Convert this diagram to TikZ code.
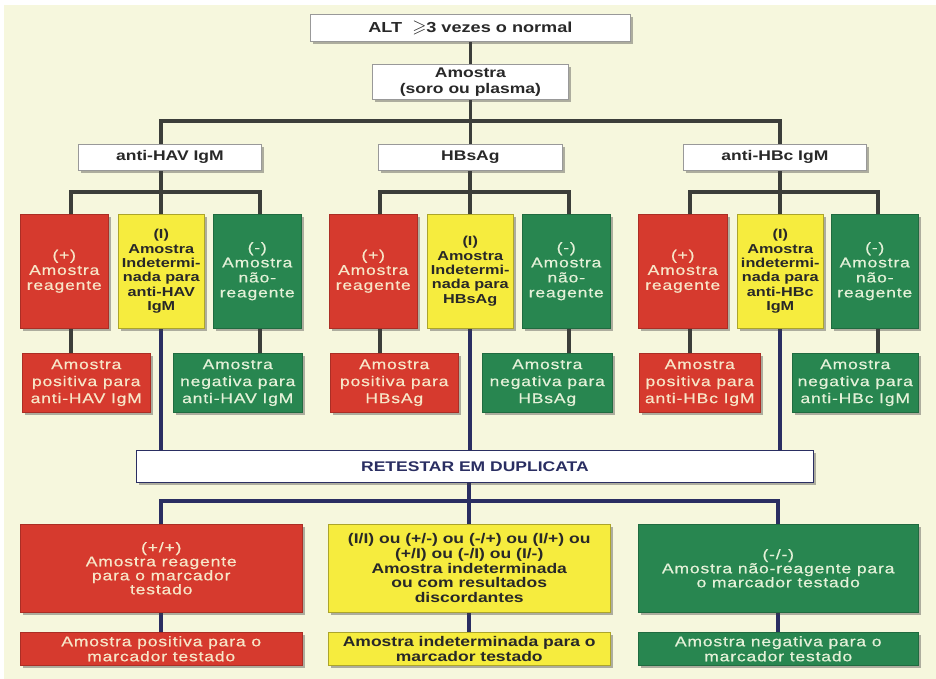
\documentclass[tikz,border=0pt]{standalone}
\usepackage{fontspec}
\usepackage{amssymb}
\setmainfont{Liberation Sans}[FakeStretch=1.25]
\newfontfamily\tracked{Liberation Sans}[FakeStretch=1.25,LetterSpace=6,FakeBold=0.6]
\usetikzlibrary{shadows}

\definecolor{cream}{RGB}{246,247,221}
\definecolor{rd}{RGB}{214,58,46}
\definecolor{yl}{RGB}{246,236,62}
\definecolor{gn}{RGB}{40,134,80}
\definecolor{rdtext}{RGB}{247,230,200}
\definecolor{gntext}{RGB}{228,241,216}
\definecolor{navy}{RGB}{42,46,98}
\definecolor{lnk}{RGB}{60,62,58}
\definecolor{ink}{RGB}{40,40,40}

\pgfdeclarelayer{bg}
\pgfdeclarelayer{links}
\pgfsetlayers{bg,links,main}

\tikzset{
  box/.style={anchor=north west, inner sep=1pt, align=center,
    drop shadow={shadow xshift=3pt, shadow yshift=-3pt, opacity=.4, fill=black!75}},
  wbox/.style={box, fill=white, draw=black!40, line width=.8pt, text=ink,
    font=\fontsize{14}{16}\selectfont\bfseries},
  rbox/.style={box, fill=rd, draw=rd!80!black, line width=.5pt, text=rdtext,
    font=\tracked\fontsize{14}{15}\selectfont},
  gbox/.style={box, fill=gn, draw=gn!80!black, line width=.5pt, text=gntext,
    font=\tracked\fontsize{14}{15}\selectfont},
  ybox/.style={box, fill=yl, draw=yl!70!black, line width=.5pt, text=ink,
    font=\fontsize{13}{14.3}\selectfont\bfseries},
  tall/.style={minimum width=88pt, minimum height=114pt},
  res/.style={minimum width=128pt, minimum height=59pt,
    font=\tracked\fontsize{14}{17}\selectfont},
  big/.style={minimum width=282pt, minimum height=88pt},
  fin/.style={minimum width=282pt, minimum height=33pt},
  lk/.style={draw=lnk, line width=3.6pt},
  nk/.style={draw=navy, line width=3.6pt},
}

\begin{document}
\begin{tikzpicture}[x=1pt, y=-1pt]
  \begin{pgfonlayer}{bg}
    \fill[white] (0,0) rectangle (936,679);
    \fill[cream] (4,5) rectangle (936,679);
  \end{pgfonlayer}
  \useasboundingbox (0,0) rectangle (936,679);

  % header
  \node[wbox, minimum width=320pt, minimum height=27pt, font=\fontsize{14.5}{16}\selectfont\bfseries] (alt) at (310,14) {ALT\ \ \scalebox{1.25}{$\geqslant$}3 vezes o normal};
  \node[wbox, minimum width=196pt, minimum height=35pt] (amo) at (372,64) {Amostra\\(soro ou plasma)};

  % markers
  \node[wbox, minimum width=183pt, minimum height=26pt] (hav) at (78,144) {anti-HAV IgM};
  \node[wbox, minimum width=184pt, minimum height=26pt] (hbs) at (378,144) {HBsAg};
  \node[wbox, minimum width=183pt, minimum height=26pt] (hbc) at (683,144) {anti-HBc IgM};

  % anti-HAV IgM branch
  \node[rbox, tall] (r1) at (20,214) {(+)\\Amostra\\reagente};
  \node[ybox, tall, minimum width=86pt] (y1) at (118,214) {(I)\\Amostra\\Indetermi-\\nada para\\anti-HAV\\IgM};
  \node[gbox, tall] (g1) at (213,214) {(-)\\Amostra\\não-\\reagente};
  \node[rbox, res] (rr1) at (22,353) {Amostra\\positiva para\\anti-HAV IgM};
  \node[gbox, res, minimum width=129pt] (gg1) at (173,353) {Amostra\\negativa para\\anti-HAV IgM};

  % HBsAg branch
  \node[rbox, tall] (r2) at (329,214) {(+)\\Amostra\\reagente};
  \node[ybox, tall, minimum width=86pt] (y2) at (427,214) {(I)\\Amostra\\Indetermi-\\nada para\\HBsAg};
  \node[gbox, tall] (g2) at (522,214) {(-)\\Amostra\\não-\\reagente};
  \node[rbox, res] (rr2) at (330,353) {Amostra\\positiva para\\HBsAg};
  \node[gbox, res, minimum width=130pt] (gg2) at (482,353) {Amostra\\negativa para\\HBsAg};

  % anti-HBc IgM branch
  \node[rbox, tall, minimum width=89pt] (r3) at (638,214) {(+)\\Amostra\\reagente};
  \node[ybox, tall, minimum width=86pt] (y3) at (737,214) {(I)\\Amostra\\indetermi-\\nada para\\anti-HBc\\IgM};
  \node[gbox, tall, minimum width=87pt] (g3) at (831,214) {(-)\\Amostra\\não-\\reagente};
  \node[rbox, res, minimum width=121pt] (rr3) at (639,353) {Amostra\\positiva para\\anti-HBc IgM};
  \node[gbox, res, minimum width=126pt] (gg3) at (792,353) {Amostra\\negativa para\\anti-HBc IgM};

  % retest
  \node[wbox, draw=navy, text=navy, minimum width=677pt, minimum height=32pt] (ret) at (136,450) {RETESTAR EM DUPLICATA};

  \node[rbox, big, font=\tracked\fontsize{14}{14}\selectfont] (br) at (20,524) {(+/+)\\Amostra reagente\\para o marcador\\testado};
  \node[ybox, big, font=\fontsize{14}{14.7}\selectfont\bfseries] (by) at (328,524) {(I/I) ou (+/-) ou (-/+) ou (I/+) ou\\(+/I) ou (-/I) ou (I/-)\\Amostra indeterminada\\ou com resultados\\discordantes};
  \node[gbox, big, minimum width=280pt, font=\tracked\fontsize{14}{14}\selectfont] (bg) at (638,524) {(-/-)\\Amostra não-reagente para\\o marcador testado};

  \node[rbox, fin] (brr) at (20,632) {Amostra positiva para o\\marcador testado};
  \node[ybox, fin, font=\fontsize{14}{15}\selectfont\bfseries] (byr) at (328,632) {Amostra indeterminada para o\\marcador testado};
  \node[gbox, fin, minimum width=280pt] (bgr) at (638,632) {Amostra negativa para o\\marcador testado};

  \begin{pgfonlayer}{links}
    % top tree
    \draw[lk] (alt) -- (amo);
    \draw[lk] (amo.south) -- (hbs.north);
    \draw[lk] (y1.north |- hav.north) -- ++(0,-23) -| (y3.north |- hbc.north);
    \foreach \h/\i in {hav/1, hbs/2, hbc/3} {
      \draw[lk] (y\i.north |- \h.south) -- (y\i.north);
      \draw[lk] ([xshift=7pt]r\i.north) -- ++(0,-22) -| ([xshift=3pt]g\i.north);
      \draw[lk] ([xshift=7pt]r\i.south) -- ([xshift=7pt]r\i.south |- rr\i.north);
      \draw[lk] ([xshift=3pt]g\i.south) -- ([xshift=3pt]g\i.south |- gg\i.north);
      \draw[nk] (y\i.south) -- (y\i.south |- ret.north);
    }
    % retest tree
    \draw[nk] (by.north |- ret.south) -- (by.north);
    \draw[nk] (br.north) -- ++(0,-23) -| (bg.north);
    \draw[nk] (br) -- (brr);
    \draw[nk] (by) -- (byr);
    \draw[nk] (bg) -- (bgr);
  \end{pgfonlayer}
\end{tikzpicture}
\end{document}
